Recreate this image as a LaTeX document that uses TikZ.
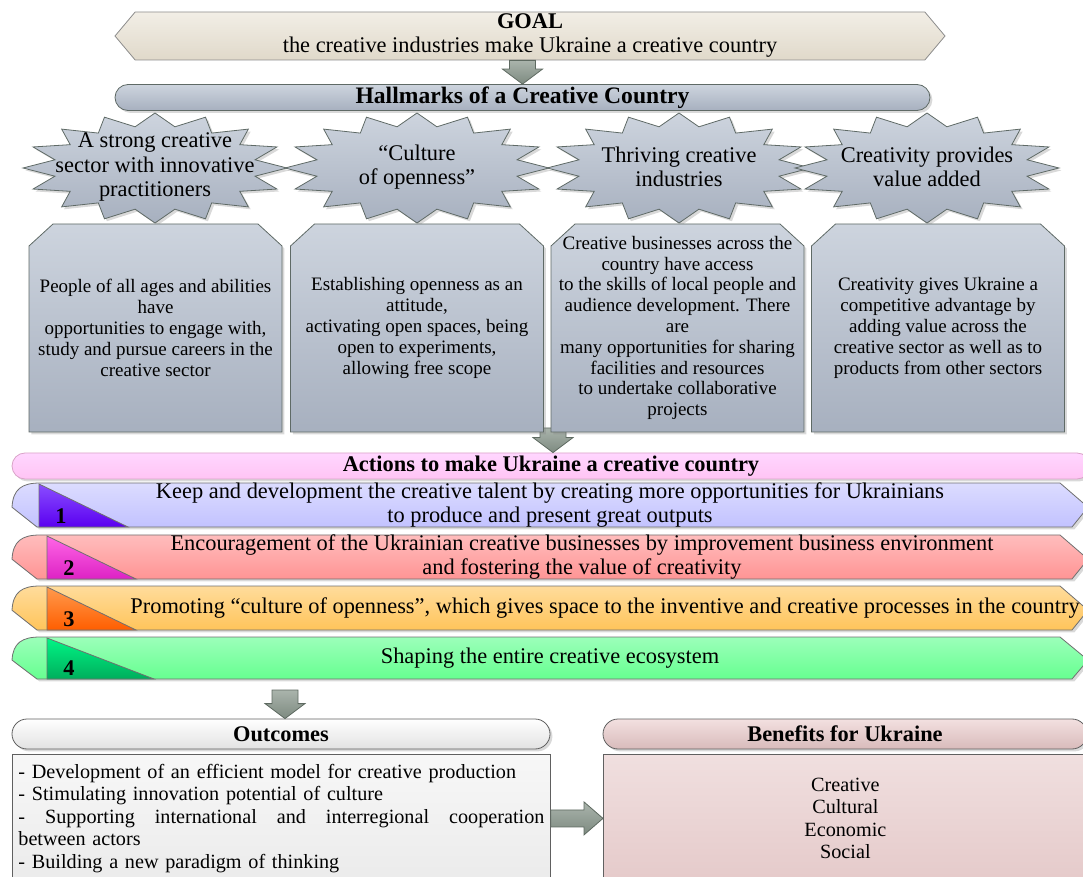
\documentclass[tikz,border=0pt]{standalone}
\usepackage{fontspec}
\setmainfont{Liberation Serif}
\usetikzlibrary{positioning,calc,shapes.symbols,shadows}
\definecolor{goalA}{HTML}{F2EEE6}\definecolor{goalB}{HTML}{E0D9CA}\definecolor{goalLine}{HTML}{8C8C8C}
\definecolor{slateA}{HTML}{CDD4DE}\definecolor{slateB}{HTML}{A7B0BF}\definecolor{slateLine}{HTML}{5F6A66}
\definecolor{pinkA}{HTML}{FFD6FF}\definecolor{pinkB}{HTML}{FFC4F4}\definecolor{pinkLine}{HTML}{D9A3C8}
\definecolor{bar1a}{HTML}{DCDCFF}\definecolor{bar1b}{HTML}{C2C2FF}
\definecolor{bar2a}{HTML}{FFBDBD}\definecolor{bar2b}{HTML}{FF9494}
\definecolor{bar3a}{HTML}{FFDC9C}\definecolor{bar3b}{HTML}{FFC45A}
\definecolor{bar4a}{HTML}{9CFFBA}\definecolor{bar4b}{HTML}{66FF90}
\definecolor{tri1a}{HTML}{8A4DFF}\definecolor{tri1b}{HTML}{5A00F0}
\definecolor{tri2a}{HTML}{FF66E6}\definecolor{tri2b}{HTML}{DD22C4}
\definecolor{tri3a}{HTML}{FF9A4D}\definecolor{tri3b}{HTML}{FF5E00}
\definecolor{tri4a}{HTML}{00F585}\definecolor{tri4b}{HTML}{00AE5C}
\definecolor{barLine}{HTML}{707070}
\definecolor{outA}{HTML}{FFFFFF}\definecolor{outB}{HTML}{E2E2E2}\definecolor{outLine}{HTML}{606060}
\definecolor{outboxA}{HTML}{F7F7F7}\definecolor{outboxB}{HTML}{EBEBEB}
\definecolor{benA}{HTML}{F3E0E0}\definecolor{benB}{HTML}{D8BBBB}
\definecolor{benboxA}{HTML}{F0DFDF}\definecolor{benboxB}{HTML}{E5CACA}
\definecolor{arrA}{HTML}{AAB4AC}\definecolor{arrB}{HTML}{7D8A80}\definecolor{arrLine}{HTML}{5E6A61}
\newcommand{\headfont}{\fontsize{11.2}{13}\selectfont}
\newcommand{\burstfont}{\fontsize{11.2}{12.3}\selectfont}
\newcommand{\cardfont}{\fontsize{9.5}{10.4}\selectfont}
\newcommand{\barfont}{\fontsize{11.2}{12}\selectfont}
\newcommand{\listfont}{\fontsize{10.1}{11.25}\selectfont}
\newcommand{\blockdown}[2]{%
 \draw[blockarrow] let \p1=(#1), \p2=(#2) in
 (\x1-6.5pt,\y1) -- (\x1+6.5pt,\y1) -- (\x1+6.5pt,\y2+7.5pt) -- (\x1+10pt,\y2+7.5pt)
 -- (\x1,\y2) -- (\x1-10pt,\y2+7.5pt) -- (\x1-6.5pt,\y2+7.5pt) -- cycle;}
\newcommand{\blockright}[2]{%
 \draw[blockarrow] let \p1=(#1), \p2=(#2) in
 (\x1,\y1+4.25pt) -- (\x2-9.5pt,\y1+4.25pt) -- (\x2-9.5pt,\y1+8.25pt) -- (\x2,\y1)
 -- (\x2-9.5pt,\y1-8.25pt) -- (\x2-9.5pt,\y1-4.25pt) -- (\x1,\y1-4.25pt) -- cycle;}

\begin{document}
\begin{tikzpicture}[x=0.5pt,y=-0.5pt,
 shadowed/.style={drop shadow={shadow xshift=1.2pt,shadow yshift=-1.2pt,opacity=.3}},
 slate/.style={top color=slateA,bottom color=slateB,draw=slateLine},
 blockarrow/.style={top color=arrA,bottom color=arrB,draw=arrLine},
 goalbox/.style={signal,signal to=east and west,signal pointer angle=100,
  top color=goalA,bottom color=goalB,draw=goalLine,minimum width=415pt,
  minimum height=24pt,inner sep=0pt,align=center,font=\headfont},
 headbar/.style={rounded corners=6.5pt,minimum height=13pt,inner sep=0pt,
  font=\headfont\bfseries,shadowed},
 cardtext/.style={minimum width=126pt,minimum height=104pt,inner sep=0pt,
  align=center,font=\cardfont}]
\useasboundingbox (0,0) rectangle (1083,877);
\clip (0,0) rectangle (1083,877);

% goal and hallmarks
\node[goalbox] (goal) at (530,36) {\textbf{GOAL}\\[-1pt]the creative industries make Ukraine a creative country};
\node[headbar,slate,minimum width=407.5pt,font=\fontsize{11.8}{13}\selectfont\bfseries]
 (hall) at (522.5,97.5) {Hallmarks of a Creative Country};
\blockdown{goal.south -| hall.north}{hall.north}
\foreach \i/\cx/\txt in {1/155/{A strong creative\\sector with innovative\\practitioners},
 2/417/{“Culture\\of openness”},3/679/{Thriving creative\\industries},
 4/927/{Creativity provides\\value added}}{
 \draw[slate,shadowed] plot[samples=33,domain=0:32]
  ({\cx+(132-30*mod(round(\x),2))*cos(\x*11.25)},{168+(55-13*mod(round(\x),2))*sin(\x*11.25)}) -- cycle;
 \node[align=center,font=\burstfont] (star\i) at (\cx,167) {\txt};
}

% actions header, arrow behind the cards
\node[headbar,top color=pinkA,bottom color=pinkB,draw=pinkLine,minimum width=539pt]
 (actions) at (551,466) {Actions to make Ukraine a creative country};
\coordinate (cardarrow) at (553,428);
\blockdown{cardarrow}{cardarrow |- actions.north}
\foreach \cx in {155.5,417,677.5,938}
 \draw[slate,shadowed] (\cx-126.5,432) -- (\cx-126.5,246) -- (\cx-102.5,224)
  -- (\cx+102.5,224) -- (\cx+126.5,246) -- (\cx+126.5,432) -- cycle;
\node[cardtext] (card1) at (155.5,328) {People of all ages and abilities\\have\\opportunities to engage with,\\study and pursue careers in the\\creative sector};
\node[cardtext] (card2) at (417,328) {Establishing openness as an\\attitude,\\activating open spaces, being\\open to experiments,\\allowing free scope};
\node[cardtext] (card3) at (677.5,328) {Creative businesses across the\\country have access\\to the skills of local people and\\audience development. There\\are\\many opportunities for sharing\\facilities and resources\\to undertake collaborative\\projects};
\node[cardtext] (card4) at (938,328) {Creativity gives Ukraine a\\competitive advantage by\\adding value across the\\creative sector as well as to\\products from other sectors};

% action bars
\foreach \n/\yt/\yb/\tx/\hx/\lx/\txt in {
 1/483/527/39/128/550/{Keep and development the creative talent by creating more opportunities for Ukrainians\\to produce and present great outputs},
 2/535/579/47/136/582/{Encouragement of the Ukrainian creative businesses by improvement business environment\\and fostering the value of creativity},
 3/586/630/47/136/605/{Promoting “culture of openness”, which gives space to the inventive and creative processes in the country},
 4/637/679/47/154/550/{Shaping the entire creative ecosystem}}{
 \draw[top color=bar\n a,bottom color=bar\n b,draw=barLine,shadowed]
  (40,\yt) -- (1060,\yt) -- (1088,{\yt+(\yb-\yt)*0.55}) -- (1072,\yb) -- (37,\yb)
  -- (12,{\yt+(\yb-\yt)*0.55}) .. controls (13,{\yt+6}) and (22,\yt) .. (40,\yt) -- cycle;
 \draw[top color=tri\n a,bottom color=tri\n b,draw=barLine] (\tx,{\yt+1}) -- (\hx,\yb) -- (\tx,\yb) -- cycle;
 \node[font=\barfont\bfseries] (num\n) at (\tx+22,\yb-11) {\n};
 \node[font=\barfont,align=center] (act\n) at (\lx,{(\yt+\yb)/2}) {\txt};
}

% outcomes and benefits
\node[headbar,rounded corners=7.5pt,top color=outA,bottom color=outB,draw=outLine,
 minimum width=269pt,minimum height=15pt] (outhead) at (281,734) {Outcomes};
\coordinate (outarrow) at (285,690);
\blockdown{outarrow}{outarrow |- outhead.north}
\node[anchor=north west,top color=outboxA,bottom color=outboxB,draw=outLine,
 minimum width=269pt,minimum height=64pt,text width=263pt,inner sep=3pt,
 align=left,font=\listfont] (outbox) at (12,754)
 {- Development of an efficient model for creative production\\
 - Stimulating innovation potential of culture\\
 \makebox[263pt][l]{-\hfill Supporting\hfill international\hfill and\hfill interregional\hfill cooperation}\\
 between actors\\
 - Building a new paradigm of thinking};
\node[headbar,rounded corners=7.5pt,top color=benA,bottom color=benB,draw=outLine,
 minimum width=242pt,minimum height=15pt] (benhead) at (845,734) {Benefits for Ukraine};
\node[anchor=north west,top color=benboxA,bottom color=benboxB,draw=outLine,
 minimum width=242pt,minimum height=64pt,align=center,font=\listfont] (benbox) at (603,754)
 {Creative\\Cultural\\Economic\\Social};
\blockright{outbox.east}{benbox.west}
\end{tikzpicture}
\end{document}
